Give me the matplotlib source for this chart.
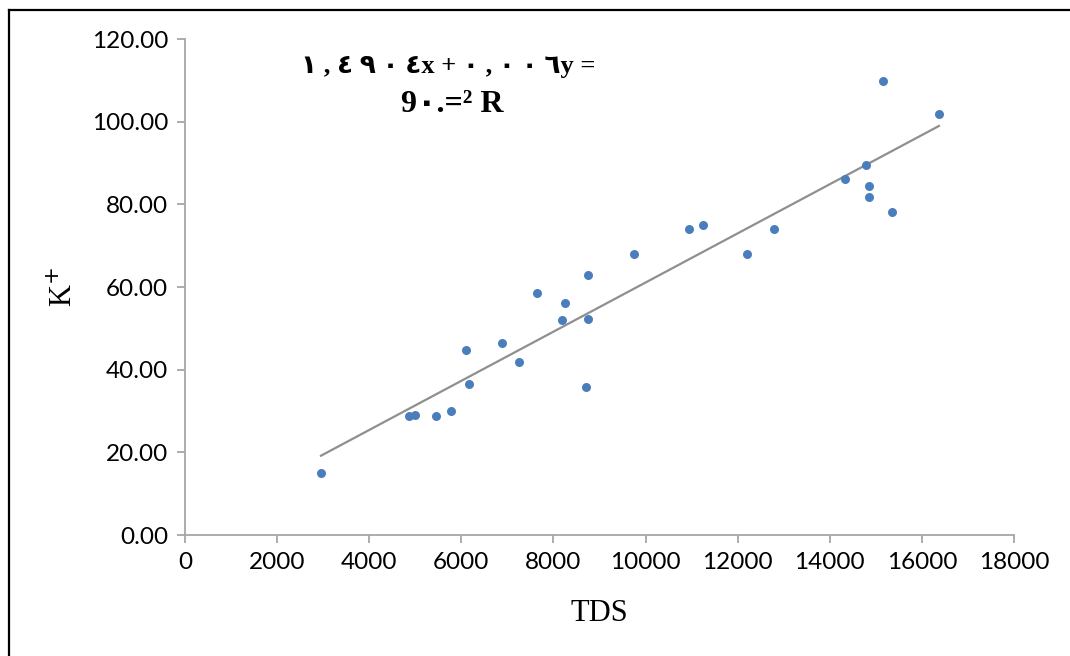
import numpy as np
import matplotlib.pyplot as plt
from matplotlib.lines import Line2D

# TDS vs K+ values
tds = [2953, 4863, 4993, 5450, 5775, 6101, 6166, 6883, 7251, 7642,
       8185, 8250, 8749, 8749, 8706, 9748, 10942, 11246, 12201, 12788,
       14329, 14785, 14850, 14850, 15154, 15350, 16370]
k = [15.0, 28.8, 29.0, 28.8, 30.0, 44.8, 36.5, 46.5, 41.9, 58.6,
     52.0, 56.1, 62.9, 52.3, 35.8, 68.0, 74.0, 75.0, 68.0, 74.0,
     86.1, 89.5, 84.4, 81.8, 109.8, 78.1, 101.9]

xticks = [0, 2000, 4000, 6000, 8000, 10000, 12000, 14000, 16000, 18000]
yticks = [0, 20, 40, 60, 80, 100, 120]

eq_line1 = "١ , ٤ ٩ ٠ ٤x + ٠ , ٠ ٠ ٦y ="
eq_line2 = "9٠.=² R"

fig = plt.figure(figsize=(10.7, 6.56), dpi=100)
ax = fig.add_axes([185 / 1070, 121 / 656, 829 / 1070, 496 / 656])

ax.scatter(tds, k, s=42, color='#4a7ebb', zorder=3, linewidths=0)

# linear trendline
m, b = np.polyfit(tds, k, 1)
xs = np.array([min(tds), max(tds)])
ax.plot(xs, m * xs + b, color='#8f8f8f', lw=1.6, zorder=2)

ax.set_xlim(0, 18000)
ax.set_ylim(0, 120)
ax.set_xticks(xticks)
ax.set_yticks(yticks)
ax.set_xticklabels([str(v) for v in xticks])
ax.set_yticklabels(['%.2f' % v for v in yticks])

for s in ['top', 'right']:
    ax.spines[s].set_visible(False)
for s in ['left', 'bottom']:
    ax.spines[s].set_color('#a6a6a6')
    ax.spines[s].set_linewidth(1.3)
ax.tick_params(axis='both', direction='out', length=6, width=1.3,
               color='#a6a6a6', labelsize=17.5, pad=6)
for lab in ax.get_xticklabels() + ax.get_yticklabels():
    lab.set_family('Lato')

ax.set_xlabel('TDS', family='Liberation Serif', fontsize=22, labelpad=19)
ax.set_ylabel('K$^{+}$', family='Liberation Serif', fontsize=22, labelpad=9)

fig.text(448 / 1070, 1 - 66 / 656, eq_line1, ha='center', va='center',
         fontsize=19, fontweight='bold', family=['Liberation Serif', 'DejaVu Sans'])
fig.text(452 / 1070, 1 - 104 / 656, eq_line2, ha='center', va='center',
         fontsize=23, fontweight='bold', family=['Liberation Serif', 'DejaVu Sans'])

# outer frame (top and left edges visible)
fig.add_artist(Line2D([9 / 1070, 9 / 1070], [0, 1 - 10 / 656], transform=fig.transFigure,
                      color='black', lw=1.6))
fig.add_artist(Line2D([9 / 1070, 1], [1 - 10 / 656, 1 - 10 / 656], transform=fig.transFigure,
                      color='black', lw=1.6))

fig.savefig('out.png', dpi=100)
